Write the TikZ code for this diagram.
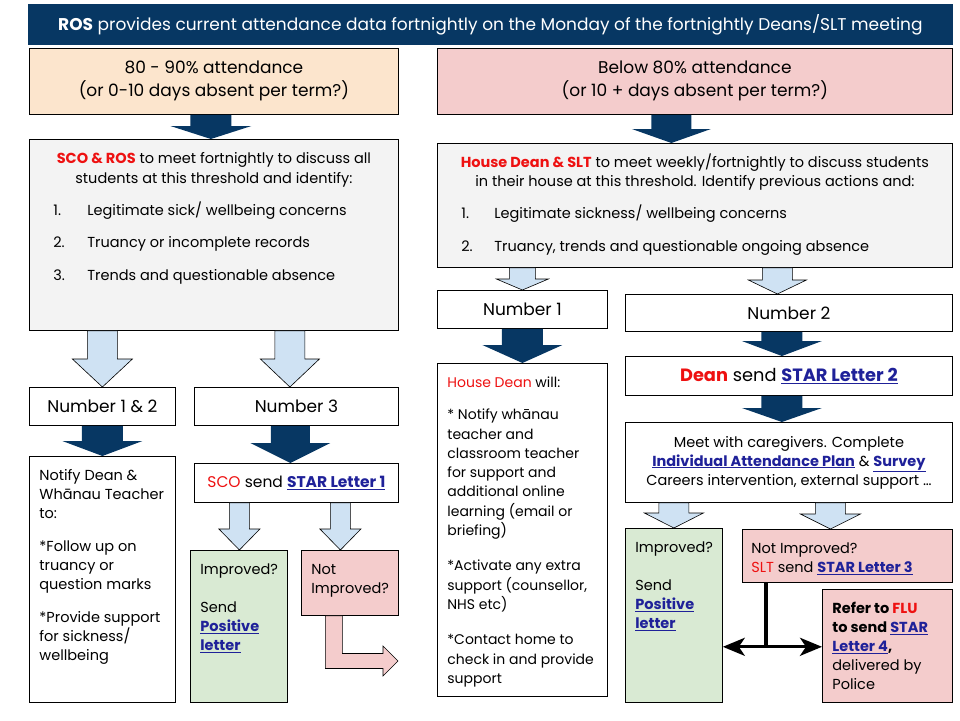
\documentclass[tikz,border=0pt]{standalone}
\usepackage{fontspec}
\setmainfont{Poppins}
\usetikzlibrary{positioning}
\usetikzlibrary{calc}
\usetikzlibrary{arrows.meta}

\definecolor{navy}{HTML}{073763}
\definecolor{peach}{HTML}{FCE5CD}
\definecolor{rose}{HTML}{F4CCCC}
\definecolor{paleGrey}{HTML}{F3F3F3}
\definecolor{mint}{HTML}{D9EAD3}
\definecolor{sky}{HTML}{CFE2F3}
\definecolor{alert}{HTML}{EE1111}
\definecolor{linkblue}{HTML}{1F2199}

\newcommand{\who}[1]{\textcolor{alert}{\textbf{#1}}}
\newcommand{\letterlink}[1]{\textcolor{linkblue}{\textbf{\underline{#1}}}}
% block arrow straight down: style, start point, target anchor, shaft/2, head/2, head length
\newcommand{\fatarrow}[6]{%
  \path[#1] let \p1=(#2), \p2=(#3) in
    (\x1-#4pt,\y1) -- (\x1+#4pt,\y1) -- (\x1+#4pt,\y2+#6pt) -- (\x1+#5pt,\y2+#6pt)
    -- (\x1,\y2) -- (\x1-#5pt,\y2+#6pt) -- (\x1-#4pt,\y2+#6pt) -- cycle;}

\begin{document}
\begin{tikzpicture}[x=1pt, y=-1pt]
    \tikzset{
      box/.style={draw, line width=0.8pt, anchor=north west, inner sep=0pt, fill=white},
      boxsize/.style 2 args={minimum width=#1pt, minimum height=#2pt},
      topbox/.style={box, inner xsep=10pt, inner ysep=10.5pt},
      body/.style={font=\fontsize{14.5}{19}\selectfont},
      header/.style={font=\fontsize{17}{23}\selectfont, align=center},
      numtext/.style={font=\fontsize{17}{20}\selectfont},
      darkarrow/.style={fill=navy},
      lightarrow/.style={fill=sky, draw=black, line width=0.6pt},
      pinkarrow/.style={fill=rose, draw=black, line width=0.6pt},
      split/.style={line width=3.2pt, >={Stealth[length=22pt,width=18pt,inset=6pt]}},
    }
    \useasboundingbox (0,0) rectangle (960,720);

    \node[box, fill=navy, draw=navy, boxsize={924}{40}, text=white,
      font=\fontsize{17}{20}\selectfont] (banner) at (28,4)
      {\textbf{ROS} provides current attendance data fortnightly on the Monday of the fortnightly Deans/SLT meeting};

    % left column: 80 - 90%
    \node[box, fill=peach, boxsize={369}{66}, header] (midband) at (29,48)
      {80 - 90\% attendance\\(or 0-10 days absent per term?)};
    \node[topbox, fill=paleGrey, body] (scoros) at (29,139) {\parbox[c][170pt][t]{349pt}{%
      {\centering\strut\who{SCO \& ROS} to meet fortnightly to discuss all\\[1pt]
      students at this threshold and identify:\par}
      \vspace{13pt}\raggedright
      \hspace*{14pt}\makebox[34pt][l]{1.}Legitimate sick/ wellbeing concerns\\[13.5pt]
      \hspace*{14pt}\makebox[34pt][l]{2.}Truancy or incomplete records\\[13.5pt]
      \hspace*{14pt}\makebox[34pt][l]{3.}Trends and questionable absence}};
    \node[box, boxsize={146}{38}, numtext] (num12) at (29,387) {Number 1 \& 2};
    \node[box, boxsize={204}{38}, numtext] (num3) at (194,387) {Number 3};
    \node[topbox, body] (notify) at (29,456) {\parbox[c][225pt][t]{126pt}{\raggedright
      \strut Notify Dean \&\\ Whānau Teacher\\ to:\\[14pt]
      *Follow up on\\ truancy or\\ question marks\\[14pt]
      *Provide support\\ for sickness/\\ wellbeing}};
    \node[box, boxsize={204}{39}, font=\fontsize{15.5}{19}\selectfont] (letter1) at (194,463)
      {\textcolor{alert}{SCO} send \letterlink{STAR Letter 1}};
    \node[topbox, fill=mint, body] (better1) at (190,550) {\parbox[c][131pt][t]{77pt}{\raggedright
      \strut Improved?\\[19pt] Send\\ \letterlink{Positive}\\ \letterlink{letter}}};
    \node[topbox, fill=rose, body] (worse1) at (301,550) {\parbox[c][44pt][t]{77pt}{\raggedright
      \strut Not\\ Improved?}};

    % right column: below 80%
    \node[box, fill=rose, boxsize={515}{66}, header] (lowband) at (437,48)
      {Below 80\% attendance\\(or 10 + days absent per term?)};
    \node[topbox, fill=paleGrey, body] (deanslt) at (437,143) {\parbox[c][103pt][t]{495pt}{%
      {\centering\strut\who{House Dean \& SLT} to meet weekly/fortnightly to discuss students\\
      in their house at this threshold. Identify previous actions and:\par}
      \vspace{13pt}\raggedright
      \hspace*{14pt}\makebox[33pt][l]{1.}Legitimate sickness/ wellbeing concerns\\[14pt]
      \hspace*{14pt}\makebox[33pt][l]{2.}Truancy, trends and questionable ongoing absence}};
    \node[box, boxsize={170}{38}, numtext] (num1) at (437,290) {Number 1};
    \node[box, boxsize={327}{37}, numtext] (num2) at (625,294) {Number 2};
    \node[topbox, font=\fontsize{14}{19.3}\selectfont] (deanwill) at (437,363)
      {\parbox[c][312pt][t]{150pt}{\raggedright
      \strut\textcolor{alert}{House Dean} will:\\[13pt]
      * Notify whānau\\ teacher and\\ classroom teacher\\ for support and\\ additional online\\
      learning (email or\\ briefing)\\[16pt]
      *Activate any extra\\ support (counsellor,\\ NHS etc)\\[16pt]
      *Contact home to\\ \mbox{check in and provide}\\ support}};
    \node[box, boxsize={327}{39}, font=\fontsize{17.8}{20}\selectfont] (letter2) at (625,356)
      {\who{Dean} send \letterlink{STAR Letter 2}};
    \node[box, boxsize={327}{80}, align=center, font=\fontsize{14.5}{19}\selectfont] (meet) at (625,422)
      {Meet with caregivers. Complete\\
      \letterlink{Individual Attendance Plan} \& \letterlink{Survey}\\
      Careers intervention, external support …};
    \node[topbox, fill=mint, body] (better2) at (625,528) {\parbox[c][153pt][t]{77pt}{\raggedright
      \strut Improved?\\[19pt] Send\\ \letterlink{Positive}\\ \letterlink{letter}}};
    \node[topbox, fill=rose, body, inner xsep=9pt] (worse2) at (742,529) {\parbox[c][32pt][t]{192pt}{\raggedright
      \strut Not Improved?\\ \textcolor{alert}{SLT} send \letterlink{STAR Letter 3}}};
    \node[topbox, fill=rose, body] (flu) at (822,589) {\parbox[c][92pt][t]{110pt}{\raggedright
      \strut\textbf{Refer to \textcolor{alert}{FLU}}\\ \textbf{to send \letterlink{STAR}}\\
      \textbf{\letterlink{Letter 4},}\\ delivered by\\ Police}};

    % dark arrows
    \fatarrow{darkarrow}{$(midband.south)+(-3,0)$}{scoros.north}{20.5}{40.5}{13}
    \fatarrow{darkarrow}{$(lowband.south)+(-23.5,0)$}{deanslt.north}{20}{39.5}{14}
    \fatarrow{darkarrow}{num12.south}{notify.north}{20.5}{40}{15}
    \fatarrow{darkarrow}{$(num3.south)+(-6,0)$}{letter1.north}{19.5}{40}{20}
    \fatarrow{darkarrow}{num1.south}{deanwill.north}{20.5}{40}{18}
    \fatarrow{darkarrow}{$(num2.south)+(-7,0)$}{letter2.north}{20.5}{40}{15}
    \fatarrow{darkarrow}{$(letter2.south)+(-7,0)$}{meet.north}{20.5}{40}{14}

    % light arrows
    \fatarrow{lightarrow}{scoros.south -| num12.north}{num12.north}{15}{30}{28}
    \fatarrow{lightarrow}{$(scoros.south)+(76,0)$}{num3.north}{15}{29.5}{28}
    \fatarrow{lightarrow}{deanslt.south -| num1.north}{num1.north}{13}{26}{11}
    \fatarrow{lightarrow}{$(deanslt.south)+(82.5,0)$}{num2.north}{15}{29}{14}
    \fatarrow{lightarrow}{$(letter1.south)+(-57,0)$}{better1.north}{10}{20.5}{21}
    \fatarrow{lightarrow}{$(letter1.south)+(44,0)$}{worse1.north}{10}{20.5}{21}
    \fatarrow{lightarrow}{meet.south -| better2.north}{better2.north}{15}{29.5}{15}
    \fatarrow{lightarrow}{$(meet.south)+(41.5,0)$}{worse2.north}{15}{30}{15}

    % not improved, carried on
    \coordinate (onward) at (398,661);
    \path[pinkarrow] let \p1=($(worse1.south)+(-16,0)$), \p2=(onward) in
      (\x1-8.5pt,\y1) -- (\x1+8.5pt,\y1) -- (\x1+8.5pt,\y2+7.5pt) -- (\x2-15pt,\y2+7.5pt)
      -- (\x2-15pt,\y2+15pt) -- (\x2,\y2) -- (\x2-15pt,\y2-15pt) -- (\x2-15pt,\y2-7.5pt)
      -- (\x1-8.5pt,\y2-7.5pt) -- cycle;

    % letter 3 splits both ways
    \coordinate (fork) at ($(worse2.south west)+(24,64)$);
    \draw[split] ($(worse2.south west)+(24,0)$) -- (fork);
    \draw[split, <->] (better2.east |- fork) -- (flu.west |- fork);
  \end{tikzpicture}
\end{document}
